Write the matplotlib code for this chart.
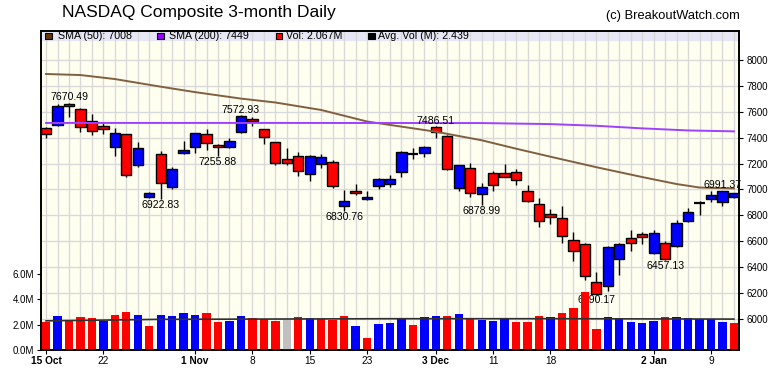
import matplotlib
matplotlib.use('Agg')
import matplotlib.pyplot as plt
from matplotlib.patches import Rectangle

# ---- data (15 Oct 2018 - 11 Jan 2019, 61 sessions) ----
opens = [7472, 7498, 7662, 7619, 7529, 7490, 7326, 7428, 7189, 6944,
         7271, 7016, 7280, 7328, 7428, 7343, 7326, 7446, 7542, 7464,
         7366, 7236, 7261, 7117, 7194, 7215, 6870, 6986, 6926, 7027,
         7040, 7132, 7273, 7279, 7484, 7413, 7013, 7163, 6962, 7130,
         7124, 7135, 6988, 6885, 6810, 6777, 6609, 6578, 6283, 6256,
         6460, 6622, 6656, 6507, 6584, 6566, 6759, 6897, 6924, 6905,
         6945]
highs = [7485, 7660, 7670.49, 7630, 7580, 7511, 7477, 7431, 7364, 6983,
         7299, 7176, 7374, 7440, 7467, 7352, 7400, 7572.93, 7557, 7468,
         7370, 7323, 7287, 7263, 7274, 7225, 6996, 7040, 6988, 7086,
         7112, 7297, 7318, 7336, 7486.51, 7420, 7190, 7207, 7047, 7140,
         7197, 7155, 7034, 6932, 6849, 6874, 6674, 6589, 6365, 6560,
         6586, 6687, 6669, 6687, 6602, 6764, 6854, 6911, 6988, 6991.37,
         6975]
lows = [7400, 7490, 7562, 7446, 7421, 7426, 7261, 7098, 7176, 6932,
        6922.83, 7002, 7274, 7284, 7305, 7255.88, 7318, 7434, 7493, 7351,
        7189, 7190, 7104, 7068, 7168, 7009, 6830.76, 6959, 6922, 7001,
        7016, 7094, 7233, 7253, 7395, 7150, 6988, 6944, 6878.99, 6988,
        7095, 7032, 6905, 6712, 6733, 6589, 6447, 6300, 6190.17, 6218,
        6339, 6527, 6576, 6500, 6457.13, 6553, 6750, 6803, 6901, 6874,
        6932]
closes = [7431, 7645, 7643, 7485, 7449, 7468, 7434, 7108, 7318, 6972,
          7047, 7162, 7306, 7434, 7357, 7329, 7376, 7571, 7531, 7407,
          7201, 7201, 7140, 7259, 7248, 7030, 6909, 6972, 6939, 7082,
          7083, 7292, 7273, 7331, 7442, 7158, 7188, 6969, 7021, 7032,
          7098, 7070, 6911, 6754, 6784, 6637, 6528, 6333, 6193, 6554,
          6579, 6585, 6635, 6666, 6464, 6739, 6823, 6897, 6957, 6986,
          6971]
volumes = [2.21, 2.68, 2.37, 2.60, 2.53, 2.31, 2.76, 3.00, 2.76, 1.89,
           2.76, 2.68, 2.92, 2.76, 2.92, 2.21, 2.29, 2.68, 2.53, 2.45,
           2.29, 2.37, 2.60, 2.53, 2.45, 2.37, 2.68, 1.89, 0.95, 2.05,
           2.15, 2.45, 1.97, 2.60, 2.68, 2.68, 2.84, 2.53, 2.37, 2.29,
           2.45, 2.21, 2.21, 2.68, 2.60, 2.92, 3.31, 4.58, 1.66, 2.60,
           2.45, 2.21, 2.13, 2.29, 2.60, 2.60, 2.53, 2.45, 2.45, 2.21,
           2.13]

tick_pos = [0, 5, 13, 18, 23, 28, 34, 39, 44, 53, 58]
tick_labels = ['15 Oct', '22', '1 Nov', '8', '15', '23', '3 Dec', '11', '18', '2 Jan', '9']
month_ticks = ['15 Oct', '1 Nov', '3 Dec', '2 Jan']

sma50_idx = [0, 3, 6, 10, 13, 17, 20, 24, 28, 34, 38, 41, 44, 48, 52, 55, 57, 60]
sma50_val = [7892, 7884, 7853, 7794, 7752, 7702, 7672, 7614, 7525, 7446,
             7380, 7315, 7253, 7172, 7096, 7042, 7015, 7008]
sma200_idx = [0, 20, 38, 44, 48, 52, 56, 60]
sma200_val = [7514, 7514, 7513, 7505, 7492, 7472, 7456, 7449]
avgvol_idx = [0, 10, 30, 45, 60]
avgvol_val = [2.30, 2.42, 2.47, 2.47, 2.44]

hi_labels = {2: '7670.49', 17: '7572.93', 34: '7486.51', 59: '6991.37'}
lo_labels = {10: '6922.83', 15: '7255.88', 26: '6830.76', 38: '6878.99',
             48: '6190.17', 54: '6457.13'}

legend_items = [('SMA (50): 7008', '#663300'), ('SMA (200): 7449', '#9900ff'),
                ('Vol: 2.067M', '#ff0000'), ('Avg. Vol (M): 2.439', '#000000')]

RED, BLUE, GREY = '#ff0000', '#0000ff', '#c0c0c0'
W, H = 780, 376
plt.rcParams['font.family'] = ['Liberation Sans', 'DejaVu Sans']

fig = plt.figure(figsize=(W / 100, H / 100), dpi=100)
ax = fig.add_axes([41 / W, 26 / H, 698.3 / W, 319.5 / H])
ax.set_facecolor('#fffff0')
ax.set_xlim(-0.44, 60.47)
ax.set_ylim(5760, 8228)

# grid + legend band
for p in range(6000, 8001, 200):
    ax.axhline(p, color='#d9d9d9', lw=1, zorder=1)
for i in range(len(closes)):
    ax.axvline(i, color='#d9d9d9', lw=1, zorder=1)
ax.axhspan(8151, 8228, color='#e6e6f5', zorder=0.5)

# candles
for i in range(len(closes)):
    o, hgh, low, c = opens[i], highs[i], lows[i], closes[i]
    ax.vlines(i, low, hgh, color='black', lw=1, zorder=3)
    if c == o:
        ax.hlines(c, i - 0.45, i + 0.45, color='black', lw=1.6, zorder=4)
    else:
        col = BLUE if c > o else RED
        ax.add_patch(Rectangle((i - 0.45, min(o, c)), 0.9, abs(c - o),
                               facecolor=col, edgecolor='black', lw=1, zorder=4))

ax.plot(sma50_idx, sma50_val, color='#806040', lw=1.4, zorder=5)
ax.plot(sma200_idx, sma200_val, color='#a040ff', lw=1.4, zorder=5)

for i, s in hi_labels.items():
    ax.text(i, highs[i] + 6, s, fontsize=7.6, ha='center', va='bottom', zorder=6)
for i, s in lo_labels.items():
    ax.text(i, lows[i] - 6, s, fontsize=7.6, ha='center', va='top', zorder=6)

ax.set_xticks(tick_pos)
ax.set_xticklabels(tick_labels)
ax.tick_params(axis='x', labelsize=7.3, length=3, pad=1.5)
for lab in ax.get_xticklabels():
    if lab.get_text() in month_ticks:
        lab.set_fontweight('bold')

# volume on its own left scale
axv = ax.twinx()
axv.set_ylim(0, 25.22)
vol_colors = [RED]
for i in range(1, len(closes)):
    if closes[i] > closes[i - 1]:
        vol_colors.append(BLUE)
    elif closes[i] < closes[i - 1]:
        vol_colors.append(RED)
    else:
        vol_colors.append(GREY)
axv.bar(range(len(volumes)), volumes, width=0.73, color=vol_colors, zorder=2)
axv.plot(avgvol_idx, avgvol_val, color='#303030', lw=1.2, zorder=3)
axv.yaxis.tick_left()
axv.set_yticks([0, 2, 4, 6])
axv.set_yticklabels(['0.0M', '2.0M', '4.0M', '6.0M'])
axv.tick_params(axis='y', labelsize=7, length=3, pad=2)

# price scale on the right (after twinx, which moves it)
ax.yaxis.tick_right()
ax.set_yticks(range(6000, 8001, 200))
ax.tick_params(axis='y', labelsize=7, length=3, pad=2, left=False, labelleft=False,
               right=True, labelright=True)

for a in (ax, axv):
    for sp in a.spines.values():
        sp.set_linewidth(1.2)
        sp.set_color('black')

# legend row inside the band
for (label, col), sx, tx in zip(legend_items, [45, 157, 275.7, 368], [57.7, 169, 286, 378]):
    fig.add_artist(Rectangle((sx / W, 1 - 39 / H), 6.5 / W, 6.5 / H, transform=fig.transFigure,
                             facecolor=col, edgecolor='black', lw=0.8))
    fig.text(tx / W, 1 - 35.8 / H, label, fontsize=7.7, va='center', ha='left')

fig.text(62 / W, 1 - 13 / H, 'NASDAQ Composite 3-month Daily', fontsize=12.5, va='center', ha='left')
fig.text(740 / W, 1 - 16.5 / H, '(c) BreakoutWatch.com', fontsize=9.3, va='center', ha='right')

fig.savefig('out.png', dpi=100)
